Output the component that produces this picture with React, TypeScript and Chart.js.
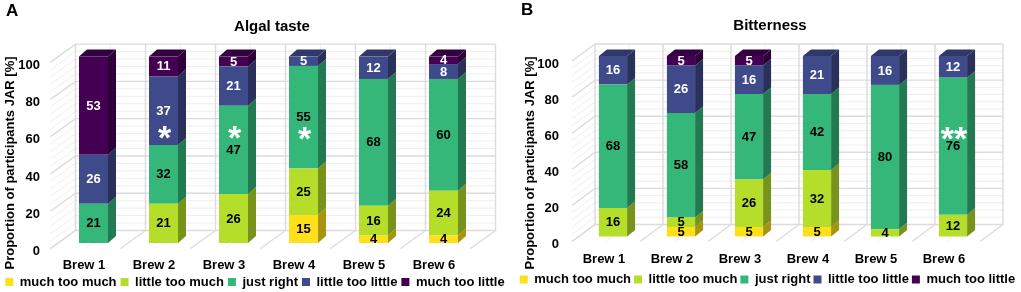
import React, { useEffect, useRef } from "react";
import { Chart, registerables } from "chart.js";

Chart.register(...registerables);

const FONT = "'Liberation Sans', Arial, sans-serif";

const categories = ["Brew 1", "Brew 2", "Brew 3", "Brew 4", "Brew 5", "Brew 6"];
const seriesNames = ["much too much", "little too much", "just right", "little too little", "much too little"];
const seriesColors = ["#FDE01A", "#B5DE2B", "#35B779", "#3E4A89", "#440154"];
const labelColors = ["#000000", "#000000", "#000000", "#ffffff", "#ffffff"];
const yTicks = [0, 20, 40, 60, 80, 100];

const algalMuchTooMuch = [0, 0, 0, 15, 4, 4];
const algalLittleTooMuch = [0, 21.05, 26.32, 25, 16, 24];
const algalJustRight = [21.05, 31.58, 47.37, 55, 68, 60];
const algalLittleTooLittle = [26.32, 36.84, 21.05, 5, 12, 8];
const algalMuchTooLittle = [52.63, 10.53, 5.26, 0, 0, 4];
const algalStars = [
  { cat: 1, value: 59, text: "*" },
  { cat: 2, value: 59, text: "*" },
  { cat: 3, value: 58.5, text: "*" },
];

const bitterMuchTooMuch = [0, 5.26, 5.26, 5.26, 0, 0];
const bitterLittleTooMuch = [15.79, 5.26, 26.32, 31.58, 4, 12];
const bitterJustRight = [68.42, 57.89, 47.37, 42.11, 80, 76];
const bitterLittleTooLittle = [15.79, 26.32, 15.79, 21.05, 16, 12];
const bitterMuchTooLittle = [0, 5.26, 5.26, 0, 0, 0];
const bitterStars = [{ cat: 5, value: 57, text: "**" }];

function shade(hex: string, f: number) {
  const n = parseInt(hex.slice(1), 16);
  const r = Math.round(((n >> 16) & 255) * f);
  const g = Math.round(((n >> 8) & 255) * f);
  const b = Math.round((n & 255) * f);
  return `rgb(${r},${g},${b})`;
}

type PanelLayout = {
  left: number; width: number; areaLeft: number; areaRight: number; areaTop: number; areaBottom: number;
  wallDx: number; wallDy: number; floorDx: number; floorDy: number; barDx: number; barDy: number;
  tickPad: number; tickShift: number; catShift: number; catPad: number; legendH: number; legendGap: number;
  legendDx: number; legendTop: number;
  letter: string; letterX: number; letterY: number; title: string; titleX: number; titleY: number;
  axisX: number; axisY: number;
};

const panelA: PanelLayout = {
  left: 0, width: 510, areaLeft: 58.5, areaRight: 478.5, areaTop: 56.6, areaBottom: 243.5,
  wallDx: 17, wallDy: 12.5, floorDx: 25, floorDy: 18, barDx: 8, barDy: 7,
  tickPad: 18.5, tickShift: 8.7, catShift: -9.5, catPad: 14.5, legendH: 26.5, legendGap: 4,
  legendDx: 0, legendTop: 272,
  letter: "A", letterX: 6, letterY: 11, title: "Algal taste", titleX: 272, titleY: 27,
  axisX: 10, axisY: 163,
};
const panelB: PanelLayout = {
  left: 510, width: 511, areaLeft: 69, areaRight: 477, areaTop: 56, areaBottom: 238,
  wallDx: 16, wallDy: 12, floorDx: 23, floorDy: 17, barDx: 8, barDy: 6.5,
  tickPad: 20, tickShift: 8, catShift: -9, catPad: 15.5, legendH: 24.5, legendGap: 3,
  legendDx: 2, legendTop: 271.5,
  letter: "B", letterX: 11, letterY: 10, title: "Bitterness", titleX: 260, titleY: 26,
  axisX: 20.7, axisY: 163,
};

const AXIS_TITLE = "Proportion of participants JAR [%]";

function makeChart(canvas: HTMLCanvasElement, L: PanelLayout, series: number[][], stars: { cat: number; value: number; text: string }[]) {
  const scenePlugin = {
    id: "scene3d",
    afterLayout(chart: any) {
      const lg = chart.legend;
      if (lg) {
        lg.left += L.legendDx;
        lg.right += L.legendDx;
      }
    },
    beforeDatasetsDraw(chart: any) {
      const { ctx, chartArea, scales } = chart;
      const y = scales.y;
      const x = scales.x;
      const wl = chartArea.left + L.wallDx;
      const wr = chartArea.right + L.wallDx;
      const wy = (v: number) => y.getPixelForValue(v) - L.wallDy;
      ctx.save();
      for (let v = 0; v <= 100; v += 4) {
        const major = yTicks.includes(v);
        if (major) continue;
        ctx.strokeStyle = "#eeeeee";
        ctx.lineWidth = 1;
        ctx.beginPath();
        ctx.moveTo(wl, wy(v));
        ctx.lineTo(wr, wy(v));
        ctx.moveTo(wl, wy(v));
        ctx.lineTo(wl - L.floorDx, wy(v) + L.floorDy);
        ctx.stroke();
      }
      ctx.strokeStyle = "#f0f0f0";
      ctx.lineWidth = 1;
      categories.forEach((_, i) => {
        const c = x.getPixelForValue(i) + L.wallDx;
        ctx.beginPath();
        ctx.moveTo(c, wy(100));
        ctx.lineTo(c, wy(0));
        ctx.lineTo(c - L.floorDx, wy(0) + L.floorDy);
        ctx.stroke();
      });
      ctx.strokeStyle = "#dcdcdc";
      ctx.lineWidth = 1.4;
      yTicks.forEach((v) => {
        ctx.beginPath();
        ctx.moveTo(wl - L.floorDx, wy(v) + L.floorDy);
        ctx.lineTo(wl, wy(v));
        ctx.lineTo(wr, wy(v));
        ctx.stroke();
      });
      const band = (chartArea.right - chartArea.left) / categories.length;
      for (let i = 0; i <= categories.length; i++) {
        const vx = wl + band * i;
        ctx.beginPath();
        ctx.moveTo(vx, wy(100));
        ctx.lineTo(vx, wy(0));
        ctx.lineTo(vx - L.floorDx, wy(0) + L.floorDy);
        ctx.stroke();
      }
      const n = categories.length;
      const topIndex: number[] = new Array(n).fill(-1);
      series.forEach((vals, s) => vals.forEach((val, i) => { if (val > 0) topIndex[i] = s; }));
      series.forEach((vals, s) => {
        const meta = chart.getDatasetMeta(s);
        meta.data.forEach((el: any, i: number) => {
          if (!(vals[i] > 0)) return;
          const r = el.x + el.width / 2;
          const l = el.x - el.width / 2;
          ctx.fillStyle = shade(seriesColors[s], 0.66);
          ctx.beginPath();
          ctx.moveTo(r, el.y);
          ctx.lineTo(r + L.barDx, el.y - L.barDy);
          ctx.lineTo(r + L.barDx, el.base - L.barDy);
          ctx.lineTo(r, el.base);
          ctx.closePath();
          ctx.fill();
          if (topIndex[i] === s) {
            ctx.fillStyle = shade(seriesColors[s], 0.76);
            ctx.beginPath();
            ctx.moveTo(l, el.y);
            ctx.lineTo(l + L.barDx, el.y - L.barDy);
            ctx.lineTo(r + L.barDx, el.y - L.barDy);
            ctx.lineTo(r, el.y);
            ctx.closePath();
            ctx.fill();
          }
        });
      });
      ctx.restore();
    },
    afterDatasetsDraw(chart: any) {
      const { ctx, scales } = chart;
      ctx.save();
      ctx.textAlign = "center";
      ctx.textBaseline = "middle";
      ctx.font = `bold 13px ${FONT}`;
      series.forEach((vals, s) => {
        const meta = chart.getDatasetMeta(s);
        ctx.fillStyle = labelColors[s];
        meta.data.forEach((el: any, i: number) => {
          if (!(vals[i] > 0)) return;
          ctx.fillText(String(Math.round(vals[i])), el.x, (el.y + el.base) / 2 + 0.5);
        });
      });
      ctx.fillStyle = "#ffffff";
      ctx.font = `bold 34px ${FONT}`;
      stars.forEach((st) => {
        ctx.fillText(st.text, scales.x.getPixelForValue(st.cat) + 1, scales.y.getPixelForValue(st.value) + 7);
      });
      ctx.restore();
    },
    afterDraw(chart: any) {
      const { ctx } = chart;
      ctx.save();
      ctx.fillStyle = "#000000";
      ctx.textBaseline = "middle";
      ctx.textAlign = "left";
      ctx.font = `bold 17px ${FONT}`;
      ctx.fillText(L.letter, L.letterX, L.letterY);
      ctx.textAlign = "center";
      ctx.font = `bold 15px ${FONT}`;
      ctx.fillText(L.title, L.titleX, L.titleY);
      ctx.font = `bold 13px ${FONT}`;
      ctx.translate(L.axisX, L.axisY);
      ctx.rotate(-Math.PI / 2);
      ctx.fillText(AXIS_TITLE, 0, 0);
      ctx.restore();
    },
  };

  return new Chart(canvas, {
    type: "bar",
    data: {
      labels: categories,
      datasets: series.map((data, s) => ({
        label: seriesNames[s],
        data,
        backgroundColor: seriesColors[s],
        borderWidth: 0,
        categoryPercentage: 29 / 70,
        barPercentage: 1,
        clip: false as any,
        yAxisID: "y",
      })),
    },
    options: {
      animation: false,
      responsive: false,
      layout: {
        autoPadding: false,
        padding: { left: 0, top: L.areaTop, right: 0, bottom: 292 - L.legendTop - L.legendH },
      },
      plugins: {
        title: { display: false },
        tooltip: { enabled: false },
        legend: {
          position: "bottom",
          labels: {
            boxWidth: 8,
            boxHeight: 8,
            padding: L.legendGap,
            color: "#000000",
            font: { family: FONT, size: 13, weight: "bold" },
          },
        },
      },
      scales: {
        x: {
          stacked: true,
          grid: { display: false, drawTicks: false },
          border: { display: false },
          afterFit(scale: any) {
            scale.height = L.legendTop - L.areaBottom;
          },
          ticks: {
            autoSkip: false,
            maxRotation: 0,
            padding: L.catPad,
            labelOffset: L.catShift,
            color: "#000000",
            font: { family: FONT, size: 13, weight: "bold" },
          },
        },
        y: {
          stacked: true,
          min: 0,
          max: 100,
          grid: { display: false, drawTicks: false },
          border: { display: false },
          afterFit(scale: any) {
            scale.width = L.areaLeft;
          },
          afterBuildTicks(scale: any) {
            scale.ticks = yTicks.map((value) => ({ value }));
          },
          ticks: {
            padding: L.tickPad,
            labelOffset: L.tickShift,
            color: "#000000",
            font: { family: FONT, size: 13, weight: "bold" },
          },
        },
        margin: {
          position: "right",
          min: 0,
          max: 100,
          grid: { display: false, drawTicks: false },
          border: { display: false },
          ticks: { display: false },
          afterFit(scale: any) {
            scale.width = L.width - L.areaRight;
          },
        },
      },
    } as any,
    plugins: [scenePlugin as any],
  });
}

function Panel({ L, series, stars }: { L: PanelLayout; series: number[][]; stars: { cat: number; value: number; text: string }[] }) {
  const ref = useRef<HTMLCanvasElement | null>(null);
  useEffect(() => {
    const chart = makeChart(ref.current as HTMLCanvasElement, L, series, stars);
    return () => chart.destroy();
  }, []);
  return (
    <canvas
      ref={ref}
      width={L.width}
      height={292}
      style={{ position: "absolute", left: L.left, top: 0, width: L.width, height: 292 }}
    />
  );
}

export default function App() {
  return (
    <div style={{ position: "fixed", left: 0, top: 0, width: 1021, height: 292, background: "#fff", overflow: "hidden" }}>
      <Panel L={panelA} stars={algalStars} series={[algalMuchTooMuch, algalLittleTooMuch, algalJustRight, algalLittleTooLittle, algalMuchTooLittle]} />
      <Panel L={panelB} stars={bitterStars} series={[bitterMuchTooMuch, bitterLittleTooMuch, bitterJustRight, bitterLittleTooLittle, bitterMuchTooLittle]} />
    </div>
  );
}
